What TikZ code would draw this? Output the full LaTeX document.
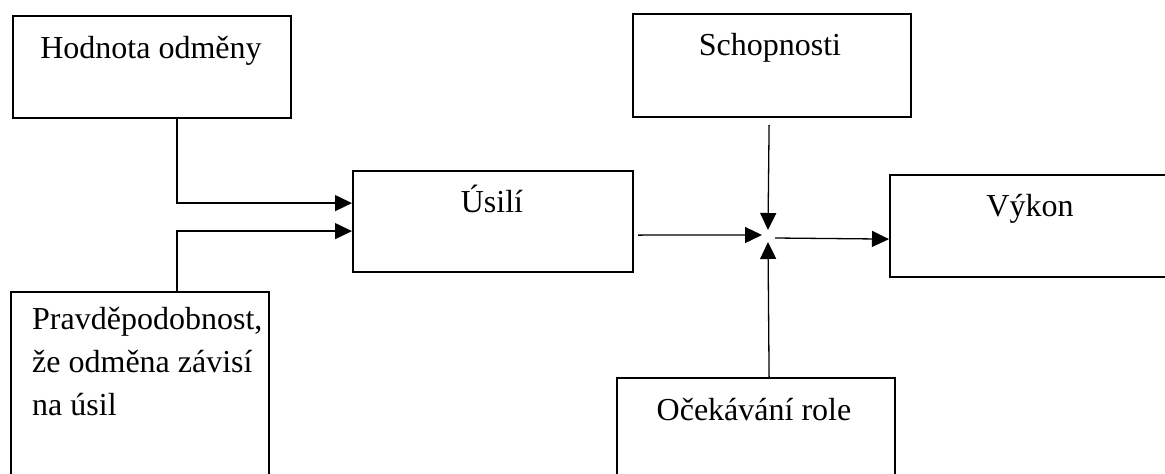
\documentclass[tikz,border=0pt]{standalone}
\usepackage{fontspec}
\setmainfont{Liberation Serif}
\usetikzlibrary{arrows.meta}
\begin{document}
\begin{tikzpicture}[x=1pt,y=-1pt,
  box/.style={draw, line width=2.2pt, rectangle, inner sep=0pt, anchor=north west},
  lbl/.style={font=\fontsize{32}{36}\selectfont, inner sep=0pt, anchor=base},
  lbll/.style={font=\fontsize{32}{36}\selectfont, inner sep=0pt, anchor=base west},
  conn/.style={line width=1.3pt, -{Triangle[length=17pt,width=16pt]}}]
\useasboundingbox (0,0) rectangle (1165,474);
\clip (0,0) rectangle (1165,474);
% boxes
\node[box, minimum width=278pt, minimum height=102pt] (hod) at (12,15) {};
\node[box, minimum width=278pt, minimum height=103pt] (sch) at (632,13) {};
\node[box, minimum width=280pt, minimum height=101pt] (usi) at (352,170) {};
\node[box, minimum width=300pt, minimum height=102pt] (vyk) at (889,174) {};
\node[box, minimum width=258pt, minimum height=200pt] (pra) at (10,291) {};
\node[box, minimum width=278pt, minimum height=120pt] (oce) at (616,377) {};
% labels
\node[lbl] (hodt) at (151,58) {Hodnota odměny};
\node[lbl] (scht) at (770,55) {Schopnosti};
\node[lbl] (usit) at (492,212) {Úsilí};
\node[lbl] (vykt) at (1030,216) {Výkon};
\node[lbl] (ocet) at (754,420) {Očekávání role};
\node[lbll] (prat1) at (32,329) {Pravděpodobnost,};
\node[lbll] (prat2) at (32,372) {že odměna závisí};
\node[lbll] (prat3) at (32,415) {na úsil};
% junction
\coordinate (j) at (768,237);
% connectors
\draw[conn] ([xshift=25pt]hod.south) |- ([yshift=18.5pt]usi.west);
\draw[conn] ([xshift=37pt]pra.north) |- ([yshift=-9.5pt]usi.west);
\draw[conn] ([xshift=4pt,yshift=-13.5pt]usi.east) -- ([xshift=-6pt,yshift=2pt]j);
\draw[conn] ([xshift=-3pt,yshift=-7pt]sch.south) -- ([yshift=7pt]j);
\draw[conn] ([xshift=13pt]oce.north) -- ([yshift=-5pt]j);
\draw[conn] ([xshift=7pt,yshift=-1pt]j) -- ([yshift=-13pt]vyk.west);
\end{tikzpicture}
\end{document}
